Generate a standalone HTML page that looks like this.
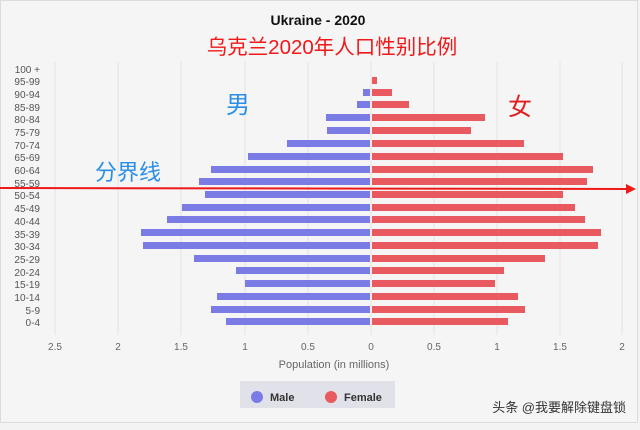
<!DOCTYPE html>
<html><head><meta charset="utf-8"><style>
html,body{margin:0;padding:0;background:#f3f3f3;}
svg{display:block;}
</style></head><body>
<svg width="640" height="430" viewBox="0 0 640 430" xmlns="http://www.w3.org/2000/svg" font-family="Liberation Sans, Noto Sans CJK SC, sans-serif">
<rect x="0" y="0" width="640" height="430" fill="#f3f3f3"/>
<rect x="0.5" y="0.5" width="637" height="422" fill="#f5f5f5" stroke="#dcdcdc"/>
<text x="318" y="25" text-anchor="middle" font-size="14" font-weight="bold" fill="#111">Ukraine - 2020</text>
<text x="332" y="54" text-anchor="middle" font-size="20.5" fill="#f01818" font-family="Liberation Sans, Noto Sans CJK SC, sans-serif">乌克兰2020年人口性别比例</text>
<g stroke="#e2e2e2" stroke-width="1">
<line x1="55" y1="62" x2="55" y2="335"/><line x1="118" y1="62" x2="118" y2="335"/><line x1="181" y1="62" x2="181" y2="335"/><line x1="245" y1="62" x2="245" y2="335"/><line x1="308" y1="62" x2="308" y2="335"/><line x1="371" y1="62" x2="371" y2="335"/><line x1="434" y1="62" x2="434" y2="335"/><line x1="497" y1="62" x2="497" y2="335"/><line x1="560" y1="62" x2="560" y2="335"/><line x1="622" y1="62" x2="622" y2="335"/>
</g>
<g font-size="10" fill="#555" text-anchor="end">
<text x="40" y="73">100 +</text><text x="40" y="85">95-99</text><text x="40" y="98">90-94</text><text x="40" y="111">85-89</text><text x="40" y="123">80-84</text><text x="40" y="136">75-79</text><text x="40" y="149">70-74</text><text x="40" y="161">65-69</text><text x="40" y="174">60-64</text><text x="40" y="187">55-59</text><text x="40" y="199">50-54</text><text x="40" y="212">45-49</text><text x="40" y="225">40-44</text><text x="40" y="238">35-39</text><text x="40" y="250">30-34</text><text x="40" y="263">25-29</text><text x="40" y="276">20-24</text><text x="40" y="288">15-19</text><text x="40" y="301">10-14</text><text x="40" y="314">5-9</text><text x="40" y="326">0-4</text>
</g>
<g fill="#7b7be6">
<rect x="363" y="89" width="7" height="7"/>
<rect x="357" y="101" width="13" height="7"/>
<rect x="326" y="114" width="44" height="7"/>
<rect x="327" y="127" width="43" height="7"/>
<rect x="287" y="140" width="83" height="7"/>
<rect x="248" y="153" width="122" height="7"/>
<rect x="211" y="166" width="159" height="7"/>
<rect x="199" y="178" width="171" height="7"/>
<rect x="205" y="191" width="165" height="7"/>
<rect x="182" y="204" width="188" height="7"/>
<rect x="167" y="216" width="203" height="7"/>
<rect x="141" y="229" width="229" height="7"/>
<rect x="143" y="242" width="227" height="7"/>
<rect x="194" y="255" width="176" height="7"/>
<rect x="236" y="267" width="134" height="7"/>
<rect x="245" y="280" width="125" height="7"/>
<rect x="217" y="293" width="153" height="7"/>
<rect x="211" y="306" width="159" height="7"/>
<rect x="226" y="318" width="144" height="7"/>
</g>
<g fill="#e85a5f">
<rect x="372" y="77" width="5" height="7"/>
<rect x="372" y="89" width="20" height="7"/>
<rect x="372" y="101" width="37" height="7"/>
<rect x="372" y="114" width="113" height="7"/>
<rect x="372" y="127" width="99" height="7"/>
<rect x="372" y="140" width="152" height="7"/>
<rect x="372" y="153" width="191" height="7"/>
<rect x="372" y="166" width="221" height="7"/>
<rect x="372" y="178" width="215" height="7"/>
<rect x="372" y="191" width="191" height="7"/>
<rect x="372" y="204" width="203" height="7"/>
<rect x="372" y="216" width="213" height="7"/>
<rect x="372" y="229" width="229" height="7"/>
<rect x="372" y="242" width="226" height="7"/>
<rect x="372" y="255" width="173" height="7"/>
<rect x="372" y="267" width="132" height="7"/>
<rect x="372" y="280" width="123" height="7"/>
<rect x="372" y="293" width="146" height="7"/>
<rect x="372" y="306" width="153" height="7"/>
<rect x="372" y="318" width="136" height="7"/>
</g>
<g font-size="10" fill="#666" text-anchor="middle">
<text x="55" y="350">2.5</text><text x="118" y="350">2</text><text x="181" y="350">1.5</text><text x="245" y="350">1</text><text x="308" y="350">0.5</text><text x="371" y="350">0</text><text x="434" y="350">0.5</text><text x="497" y="350">1</text><text x="560" y="350">1.5</text><text x="622" y="350">2</text>
</g>
<text x="334" y="368" text-anchor="middle" font-size="11" fill="#666">Population (in millions)</text>
<rect x="240" y="381" width="155" height="27" fill="#e1e1ea"/>
<circle cx="257" cy="397" r="6" fill="#7b7be6"/>
<text x="270" y="401" font-size="11" font-weight="bold" fill="#333">Male</text>
<circle cx="331" cy="397" r="6" fill="#e85a5f"/>
<text x="344" y="401" font-size="11" font-weight="bold" fill="#333">Female</text>
<text x="238" y="113" text-anchor="middle" font-size="24" fill="#2a8ee8">男</text>
<text x="520" y="115" text-anchor="middle" font-size="24" fill="#e02020">女</text>
<text x="128" y="180" text-anchor="middle" font-size="22" fill="#2a8ee8">分界线</text>
<line x1="0" y1="188" x2="628" y2="189" stroke="#ee1a1a" stroke-width="2"/>
<polygon points="626,184 636,189 626,194" fill="#ee1a1a"/>
<text x="626" y="412" text-anchor="end" font-size="13" fill="#333">头条 @我要解除键盘锁</text>
</svg>
</body></html>
